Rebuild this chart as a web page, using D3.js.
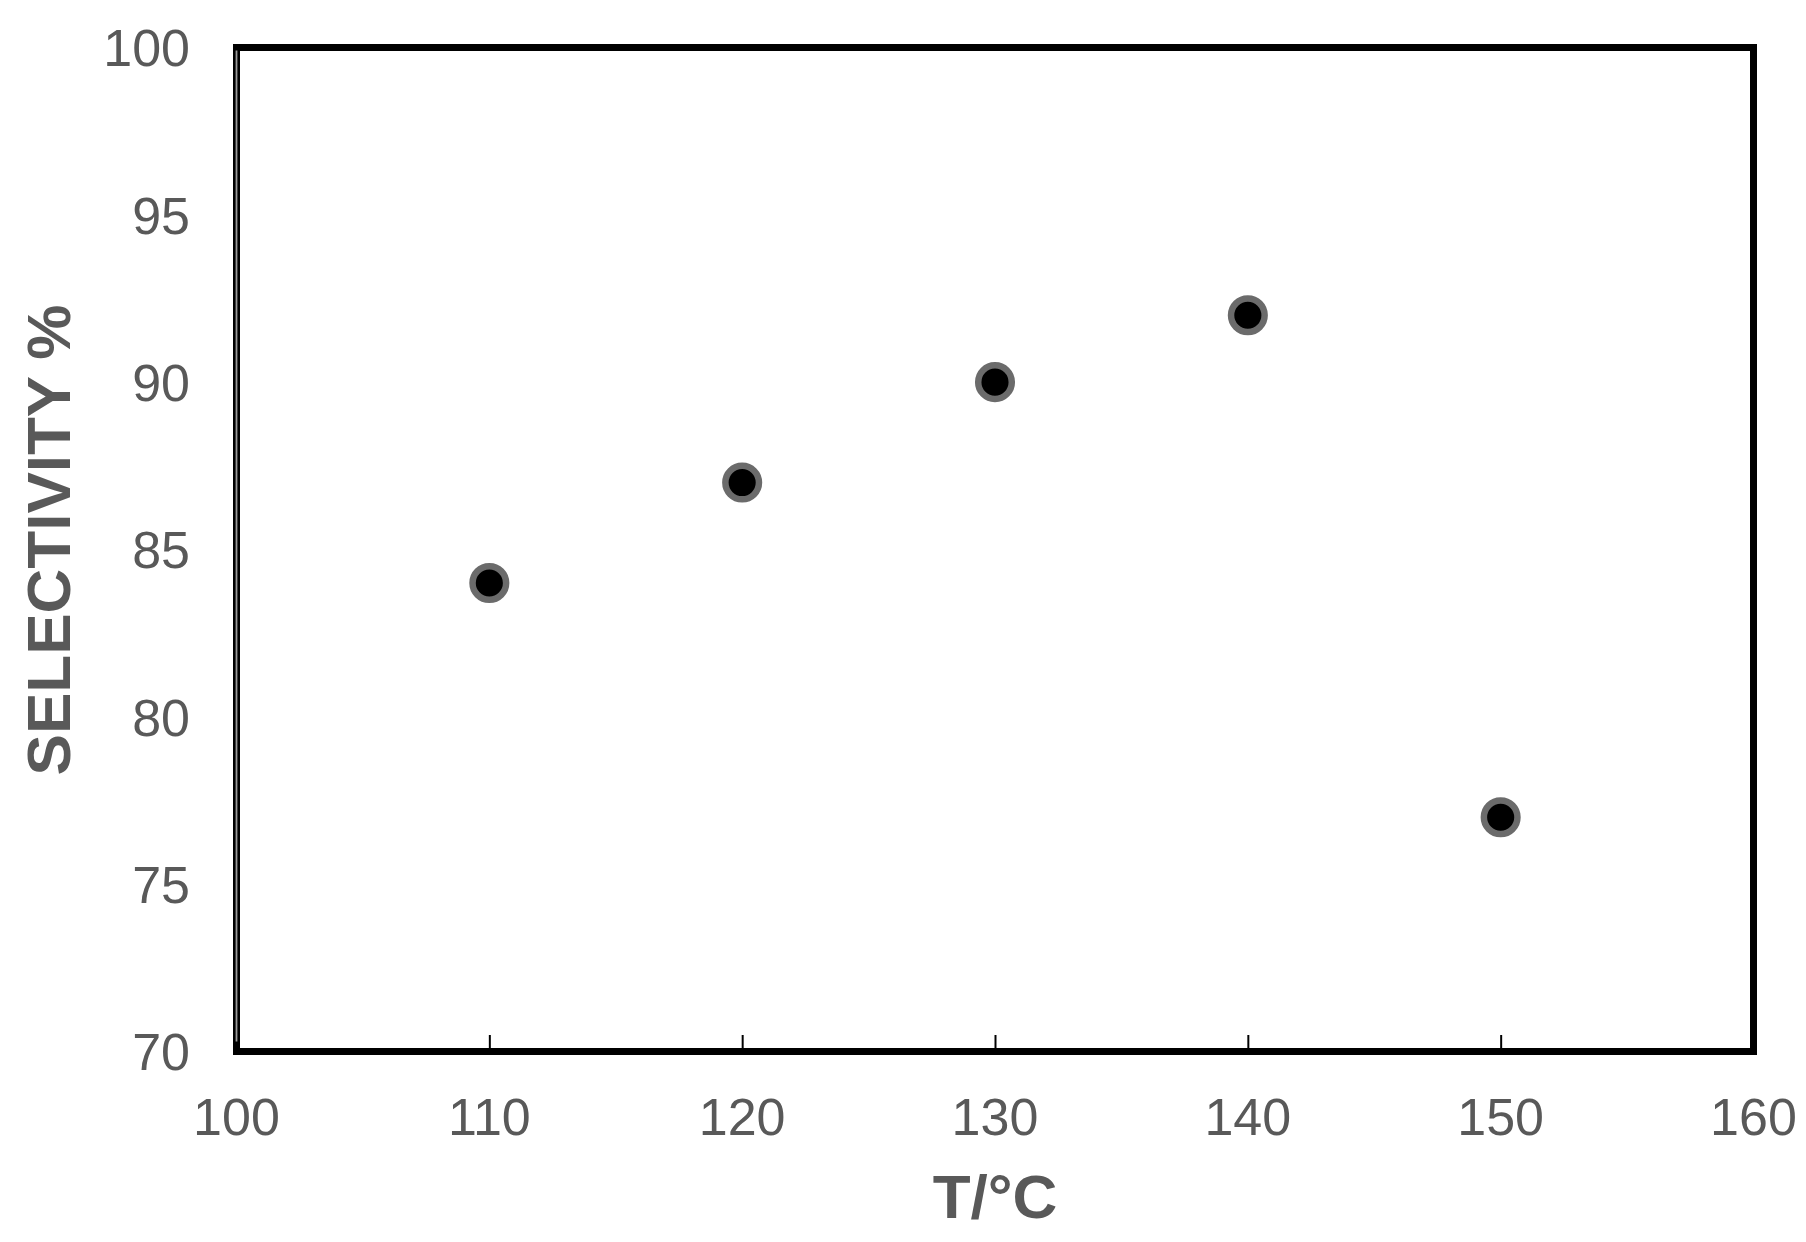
<!DOCTYPE html>
<html><head><meta charset="utf-8">
<script src="https://cdn.jsdelivr.net/npm/d3@7"></script>
<style>html,body{margin:0;padding:0;background:#fff;}svg{display:block;}</style>
</head><body>
<script>
const temps = [110, 120, 130, 140, 150];
const selectivity = [84, 87, 90, 92, 77];
const xTicks = [100, 110, 120, 130, 140, 150, 160];
const yTicks = [70, 75, 80, 85, 90, 95, 100];
const xTitle = "T/°C";
const yTitle = "SELECTIVITY %";

const W = 1806, H = 1242;
const L = 236.5, R = 1753.5, T = 47.5, B = 1051.5;
const svg = d3.select("body").append("svg").attr("width", W).attr("height", H);
const x = d3.scaleLinear().domain([100, 160]).range([L, R]);
const y = d3.scaleLinear().domain([70, 100]).range([B, T]);
const font = "'Liberation Sans', Arial, sans-serif";
const grey = "#595959";

// x tick marks (inward)
const xAxis = d3.axisBottom(x).tickValues(xTicks).tickSizeInner(-16.5).tickSizeOuter(0).tickFormat("");
const gx = svg.append("g").attr("transform", `translate(0,${B})`).call(xAxis);
gx.select(".domain").remove();
gx.selectAll(".tick line").attr("stroke", "#000").attr("stroke-width", 2)
  .filter(d => d === 100 || d === 160).remove();

// x tick labels
svg.append("g").selectAll("text").data(xTicks).join("text")
  .attr("x", d => x(d)).attr("y", 1135)
  .attr("text-anchor", "middle").attr("font-family", font).attr("font-size", 52)
  .attr("fill", grey).text(d => d);

// y tick labels
svg.append("g").selectAll("text").data(yTicks).join("text")
  .attr("x", 190).attr("y", d => y(d)).attr("dy", "0.36em")
  .attr("text-anchor", "end").attr("font-family", font).attr("font-size", 52)
  .attr("fill", grey).text(d => d);

// frame
svg.append("rect").attr("x", L).attr("y", T).attr("width", R - L).attr("height", B - T)
  .attr("fill", "none").attr("stroke", "#000").attr("stroke-width", 7);
svg.append("line").attr("x1", L).attr("x2", L).attr("y1", T + 3).attr("y2", B - 10)
  .attr("stroke", "#999").attr("stroke-width", 1.8);

// points
svg.append("g").selectAll("circle").data(temps.map((t, i) => [t, selectivity[i]])).join("circle")
  .attr("cx", d => x(d[0])).attr("cy", d => y(d[1])).attr("r", 16.8)
  .attr("fill", "#000").attr("stroke", "#6b6b6b").attr("stroke-width", 6.5);

// titles
svg.append("text").attr("x", (L + R) / 2).attr("y", 1218).attr("text-anchor", "middle")
  .attr("font-family", font).attr("font-weight", "bold").attr("font-size", 62)
  .attr("fill", grey).text(xTitle);
svg.append("text").attr("transform", "translate(70,540) rotate(-90)").attr("text-anchor", "middle")
  .attr("font-family", font).attr("font-weight", "bold").attr("font-size", 62)
  .attr("fill", grey).text(yTitle);
</script>
</body></html>
